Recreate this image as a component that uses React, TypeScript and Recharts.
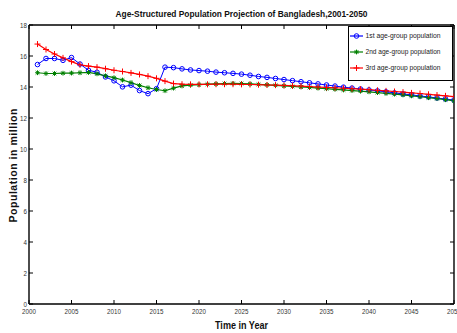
import React from 'react';
import { LineChart, Line, XAxis, YAxis, Legend } from 'recharts';

const years = [
  2001, 2002, 2003, 2004, 2005, 2006, 2007, 2008, 2009, 2010,
  2011, 2012, 2013, 2014, 2015, 2016, 2017, 2018, 2019, 2020,
  2021, 2022, 2023, 2024, 2025, 2026, 2027, 2028, 2029, 2030,
  2031, 2032, 2033, 2034, 2035, 2036, 2037, 2038, 2039, 2040,
  2041, 2042, 2043, 2044, 2045, 2046, 2047, 2048, 2049, 2050,
];

const age1 = [
  15.45, 15.84, 15.84, 15.72, 15.9, 15.48, 15.08, 14.95, 14.65, 14.4,
  14.01, 14.12, 13.77, 13.57, 13.89, 15.28, 15.25, 15.17, 15.1, 15.06,
  15.02, 14.96, 14.92, 14.88, 14.83, 14.76, 14.68, 14.62, 14.55, 14.48,
  14.41, 14.34, 14.27, 14.2, 14.13, 14.06, 13.99, 13.93, 13.87, 13.81,
  13.75, 13.69, 13.62, 13.55, 13.49, 13.42, 13.36, 13.29, 13.22, 13.16,
];

const age2 = [
  14.92, 14.87, 14.87, 14.89, 14.9, 14.92, 14.94, 14.85, 14.72, 14.6,
  14.45, 14.28, 14.1, 13.95, 13.84, 13.76, 13.93, 14.07, 14.12, 14.15,
  14.18, 14.2, 14.22, 14.23, 14.22, 14.2, 14.17, 14.14, 14.11, 14.07,
  14.04, 14.0, 13.97, 13.93, 13.89, 13.85, 13.81, 13.77, 13.73, 13.69,
  13.64, 13.59, 13.54, 13.49, 13.43, 13.37, 13.31, 13.25, 13.18, 13.1,
];

const age3 = [
  16.77, 16.42, 16.13, 15.88, 15.64, 15.43, 15.35, 15.28, 15.18, 15.08,
  15.0, 14.91, 14.81, 14.7, 14.56, 14.38, 14.22, 14.18, 14.17, 14.17,
  14.17, 14.18, 14.18, 14.18, 14.17, 14.16, 14.15, 14.13, 14.12, 14.1,
  14.08, 14.06, 14.03, 14.0, 13.97, 13.95, 13.92, 13.89, 13.86, 13.83,
  13.79, 13.75, 13.71, 13.67, 13.62, 13.58, 13.53, 13.48, 13.43, 13.38,
];

const xTicks = [2000, 2005, 2010, 2015, 2020, 2025, 2030, 2035, 2040, 2045, 2050];
const yTicks = [0, 2, 4, 6, 8, 10, 12, 14, 16, 18];
const seriesNames = [
  '1st age-group population',
  '2nd age-group population',
  '3rd age-group population',
];
const title = 'Age-Structured Population Projection of Bangladesh,2001-2050';
const xTitle = 'Time in Year';
const yTitle = 'Population in million';

const BLUE = '#0000ff';
const GREEN = '#008000';
const RED = '#ff0000';
const SANS = "'Liberation Sans', Arial, sans-serif";

const data = years.map((y, i) => ({ year: y, a1: age1[i], a2: age2[i], a3: age3[i] }));

const BottomTick = (p: any) => {
  const { x, y, payload } = p;
  const s = String(payload.value);
  return (
    <g>
      <line x1={x} x2={x} y1={y} y2={y - 4} stroke="#000" strokeWidth={1} />
      <text
        x={x}
        y={y + 10}
        textAnchor="middle"
        fontSize={7}
        fontFamily={SANS}
        fill="#333"
        textLength={s.length * 3.45}
        lengthAdjust="spacingAndGlyphs"
      >
        {s}
      </text>
    </g>
  );
};

const TopTick = (p: any) => {
  const { x, y } = p;
  return <line x1={x} x2={x} y1={y} y2={y + 4} stroke="#000" strokeWidth={1} />;
};

const LeftTick = (p: any) => {
  const { x, y, payload } = p;
  const s = String(payload.value);
  return (
    <g>
      <line x1={x} x2={x + 4} y1={y} y2={y} stroke="#000" strokeWidth={1} />
      <text
        x={x - 2}
        y={y + 2.5}
        textAnchor="end"
        fontSize={7}
        fontFamily={SANS}
        fill="#333"
        textLength={s.length * 3.45}
        lengthAdjust="spacingAndGlyphs"
      >
        {s}
      </text>
    </g>
  );
};

const RightTick = (p: any) => {
  const { x, y } = p;
  return <line x1={x} x2={x - 4} y1={y} y2={y} stroke="#000" strokeWidth={1} />;
};

const circleMark = (cx: number, cy: number, key?: any) => (
  <circle key={key} cx={cx} cy={cy} r={2.3} fill="none" stroke={BLUE} strokeWidth={1} />
);
const starMark = (cx: number, cy: number, key?: any) => {
  const s = 2.4;
  const d = 1.8;
  return (
    <g key={key} stroke={GREEN} strokeWidth={1}>
      <line x1={cx - s} x2={cx + s} y1={cy} y2={cy} />
      <line x1={cx} x2={cx} y1={cy - s} y2={cy + s} />
      <line x1={cx - d} x2={cx + d} y1={cy - d} y2={cy + d} />
      <line x1={cx - d} x2={cx + d} y1={cy + d} y2={cy - d} />
    </g>
  );
};
const plusMark = (cx: number, cy: number, key?: any) => {
  const s = 3;
  return (
    <g key={key} stroke={RED} strokeWidth={1}>
      <line x1={cx - s} x2={cx + s} y1={cy} y2={cy} />
      <line x1={cx} x2={cx} y1={cy - s} y2={cy + s} />
    </g>
  );
};

const CircleDot = (p: any) => (p.cx == null ? <g key={p.index} /> : circleMark(p.cx, p.cy, p.index));
const StarDot = (p: any) => (p.cx == null ? <g key={p.index} /> : starMark(p.cx, p.cy, p.index));
const PlusDot = (p: any) => (p.cx == null ? <g key={p.index} /> : plusMark(p.cx, p.cy, p.index));

const LegendBox = () => {
  const items = [
    { name: seriesNames[0], color: BLUE, mark: circleMark },
    { name: seriesNames[1], color: GREEN, mark: starMark },
    { name: seriesNames[2], color: RED, mark: plusMark },
  ];
  return (
    <svg width={105} height={55} style={{ display: 'block' }}>
      <rect x={0.5} y={0.5} width={104} height={54} fill="#fff" stroke="#000" strokeWidth={1} />
      {items.map((it, i) => {
        const y = 10 + i * 16;
        return (
          <g key={it.name}>
            <line x1={2} x2={15} y1={y} y2={y} stroke={it.color} strokeWidth={1.2} />
            {it.mark(8.5, y)}
            <text
              x={17.5}
              y={y + 2.4}
              fontSize={6.8}
              fontFamily={SANS}
              fill="#222"
              textLength={75}
              lengthAdjust="spacingAndGlyphs"
            >
              {it.name}
            </text>
          </g>
        );
      })}
    </svg>
  );
};

const XTitle = (p: any) => {
  const vb = p.viewBox || { x: 29, y: 304, width: 425 };
  return (
    <text
      x={vb.x + vb.width / 2}
      y={vb.y + 25}
      textAnchor="middle"
      fontSize={10.5}
      fontWeight="bold"
      fontFamily={SANS}
      fill="#111"
      textLength={53}
      lengthAdjust="spacingAndGlyphs"
    >
      {xTitle}
    </text>
  );
};

const TopTitle = (p: any) => {
  const vb = p.viewBox || { x: 29, y: 24, width: 425, height: 1 };
  return (
    <text
      x={vb.x + vb.width / 2}
      y={vb.y + (vb.height || 0) - 8}
      textAnchor="middle"
      fontSize={9.8}
      fontWeight="bold"
      fontFamily={SANS}
      fill="#111"
      textLength={252}
      lengthAdjust="spacingAndGlyphs"
    >
      {title}
    </text>
  );
};

const YTitle = (p: any) => {
  const vb = p.viewBox || { x: 28, y: 25, height: 279 };
  const cx = 16.5;
  const cy = vb.y + vb.height / 2 + 1;
  return (
    <text
      x={cx}
      y={cy}
      transform={`rotate(-90 ${cx} ${cy})`}
      textAnchor="middle"
      fontSize={10.5}
      fontWeight="bold"
      fontFamily={SANS}
      fill="#111"
      textLength={114}
      lengthAdjust="spacing"
    >
      {yTitle}
    </text>
  );
};

export default function App() {
  return (
    <div style={{ position: 'absolute', left: 0, top: 0, width: 457, height: 333, background: '#fff' }}>
      <LineChart width={457} height={333} data={data} margin={{ top: 24, right: 2, bottom: 28, left: 28 }}>
        <XAxis
          xAxisId="b"
          dataKey="year"
          type="number"
          domain={[2000, 2050]}
          ticks={xTicks}
          orientation="bottom"
          height={1}
          tickSize={0}
          tickMargin={0}
          tickLine={false}
          tick={<BottomTick />}
          axisLine={{ stroke: '#000', strokeWidth: 1.4 }}
          interval={0}
          allowDataOverflow
          label={<XTitle />}
        />
        <XAxis
          xAxisId="t"
          dataKey="year"
          type="number"
          domain={[2000, 2050]}
          ticks={xTicks}
          orientation="top"
          height={1}
          tickSize={0}
          tickMargin={0}
          tickLine={false}
          tick={<TopTick />}
          axisLine={{ stroke: '#000', strokeWidth: 1.4 }}
          interval={0}
          allowDataOverflow
          label={<TopTitle />}
        />
        <YAxis
          yAxisId="l"
          type="number"
          domain={[0, 18]}
          ticks={yTicks}
          orientation="left"
          width={1}
          tickSize={0}
          tickMargin={0}
          tickLine={false}
          tick={<LeftTick />}
          axisLine={{ stroke: '#000', strokeWidth: 1.4 }}
          interval={0}
          allowDataOverflow
          label={<YTitle />}
        />
        <YAxis
          yAxisId="r"
          type="number"
          domain={[0, 18]}
          ticks={yTicks}
          orientation="right"
          width={1}
          tickSize={0}
          tickMargin={0}
          tickLine={false}
          tick={<RightTick />}
          axisLine={{ stroke: '#000', strokeWidth: 1.4 }}
          interval={0}
          allowDataOverflow
        />
        <Legend
          layout="vertical"
          align="center"
          verticalAlign="middle"
          wrapperStyle={{ left: 348, top: 26, width: 105, height: 55 }}
          content={<LegendBox />}
        />
        <Line
          xAxisId="b"
          yAxisId="l"
          type="linear"
          dataKey="a1"
          name={seriesNames[0]}
          stroke={BLUE}
          strokeWidth={1}
          dot={CircleDot}
          activeDot={false}
          isAnimationActive={false}
        />
        <Line
          xAxisId="b"
          yAxisId="l"
          type="linear"
          dataKey="a2"
          name={seriesNames[1]}
          stroke={GREEN}
          strokeWidth={1.2}
          dot={StarDot}
          activeDot={false}
          isAnimationActive={false}
        />
        <Line
          xAxisId="b"
          yAxisId="l"
          type="linear"
          dataKey="a3"
          name={seriesNames[2]}
          stroke={RED}
          strokeWidth={1.2}
          dot={PlusDot}
          activeDot={false}
          isAnimationActive={false}
        />
      </LineChart>
    </div>
  );
}
